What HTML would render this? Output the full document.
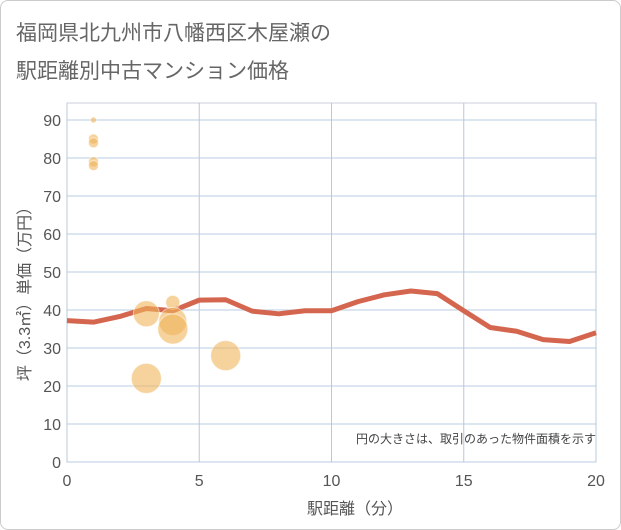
<!DOCTYPE html>
<html><head><meta charset="utf-8"><style>
body{margin:0;background:#fff;font-family:"Liberation Sans","Noto Sans CJK JP",sans-serif}
#card{position:absolute;left:0;top:0;width:619px;height:528px;border:1px solid #ccc;border-radius:8px;background:#fff}
</style></head><body>
<div id="card"></div>
<svg id="c" width="621" height="530" style="position:absolute;left:0;top:0" font-family="Liberation Sans, Noto Sans CJK JP, sans-serif">
<text x="16" y="40" font-size="21" fill="#666">福岡県北九州市八幡西区木屋瀬の</text>
<text x="16" y="78" font-size="21" fill="#666">駅距離別中古マンション価格</text>
<g id="grid"></g><g id="marks"></g>
<text x="596" y="443" font-size="12" fill="#444" text-anchor="end">円の大きさは、取引のあった物件面積を示す</text>
<text x="355" y="514" font-size="16" fill="#555" text-anchor="middle">駅距離（分）</text>
<text transform="translate(30,290) rotate(-90)" font-size="16" fill="#555" text-anchor="middle">坪（3.3㎡）単価（万円）</text>
</svg>
<script>
const xTicks=[0,5,10,15,20];
const yTicks=[0,10,20,30,40,50,60,70,80,90];
const lineX=[0,1,2,3,4,5,6,7,8,9,10,11,12,13,14,15,16,17,18,19,20];
const lineY=[37.2,36.8,38.3,40.4,39.8,42.6,42.7,39.7,39,39.8,39.8,42.2,44,45,44.3,39.8,35.4,34.4,32.2,31.7,34];
const bubX=[1,1,1,1,1,3,3,4,4,4,6];
const bubY=[90,85,84,79,78,39,22,42,37,35,28];
const bubR=[3,5,5,5,5,13,15,7,14,15,15];
const X0=67,X1=596,Y0=462,Y90=120;
const sx=v=>X0+(X1-X0)*v/20, sy=v=>Y0-(Y0-Y90)*v/90;
const NS="http://www.w3.org/2000/svg";
const g=document.getElementById('grid'),m=document.getElementById('marks');
function mk(tag,at,p){const e=document.createElementNS(NS,tag);for(const k in at)e.setAttribute(k,at[k]);p.appendChild(e);return e;}
let r=mk('rect',{x:X0,y:103,width:X1-X0,height:Y0-103,fill:'none',stroke:'#ccd',"stroke-width":1},g);


yTicks.forEach(v=>{let l=mk('line',{x1:X0,x2:X1,y1:sy(v),y2:sy(v),stroke:'#c8d8e6',"stroke-width":1.2},g);


let t=mk('text',{x:X0-6,y:sy(v)+6,"font-size":16,fill:'#555',"text-anchor":'end'},g);t.textContent=v;

});
xTicks.forEach(v=>{let l=mk('line',{x1:sx(v),x2:sx(v),y1:103,y2:Y0,stroke:'#b8c8d8',"stroke-width":1},g);


let t=mk('text',{x:sx(v),y:Y0+24,"font-size":16,fill:'#555',"text-anchor":'middle'},g);t.textContent=v;

});
let p=mk('polyline',{points:lineX.map((x,i)=>sx(x)+','+sy(lineY[i])).join(' '),fill:'none',stroke:'#d4664f',"stroke-width":5,"stroke-linejoin":'round'},m);


bubX.forEach((x,i)=>{let c=mk('circle',{cx:sx(x),cy:sy(bubY[i]),r:bubR[i],fill:'#f0b45a',"fill-opacity":0.6,stroke:'#fff',"stroke-opacity":0.5},m);

});
</script>
</body></html>
